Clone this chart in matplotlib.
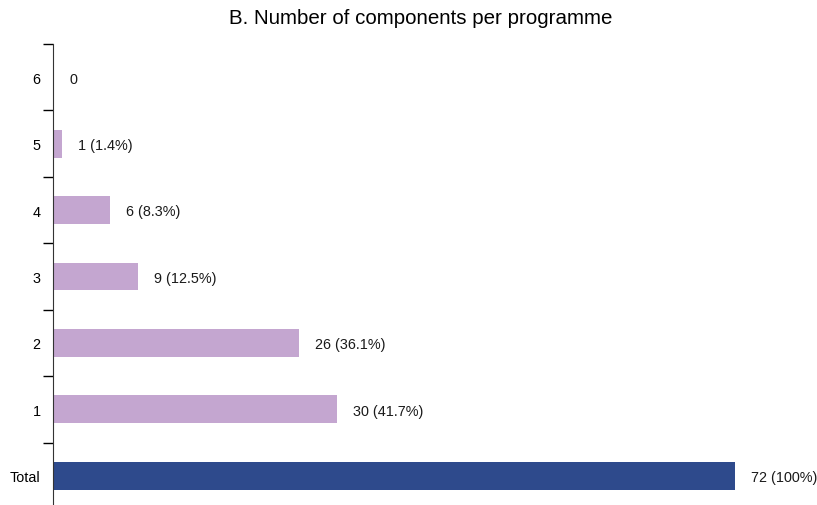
import matplotlib
matplotlib.use('Agg')
import matplotlib.pyplot as plt

plt.rcParams['font.family'] = ['Liberation Sans', 'DejaVu Sans']

# components per programme, bottom to top
categories = ['Total', '1', '2', '3', '4', '5', '6']
counts = [72, 30, 26, 9, 6, 1, 0]
labels = ['72 (100%)', '30 (41.7%)', '26 (36.1%)', '9 (12.5%)',
          '6 (8.3%)', '1 (1.4%)', '0']
colors = ['#2E4A8C'] + ['#C4A6D0'] * 6

fig = plt.figure(figsize=(8.17, 5.06), dpi=100)
ax = fig.add_axes([53 / 817, 0, 1 - 53 / 817, (506 - 45) / 506])

pos = list(range(len(categories)))
ax.barh(pos, counts, height=0.42, color=colors)
for p, c, lab in zip(pos, counts, labels):
    ax.annotate(lab, (c, p - 0.02), xytext=(16, 0), textcoords='offset pixels',
                va='center', ha='left', fontsize=10.4, color='#1a1a1a')

ax.set_xlim(0, 80.7)
ax.set_ylim(-0.44, 6.5)

# tick marks between categories, labels centred on bars
ax.set_yticks([p + 0.5 for p in pos])
ax.set_yticklabels([])
ax.set_yticks(pos, minor=True)
ax.set_yticklabels(categories, minor=True, fontsize=10.4)
ax.tick_params(axis='y', which='major', direction='out', length=7, width=1)
ax.tick_params(axis='y', which='minor', length=0, pad=9)
ax.set_xticks([])

for s in ['top', 'right', 'bottom']:
    ax.spines[s].set_visible(False)
ax.spines['left'].set_color('#333333')

fig.text(421 / 817, 1 - 19 / 506, 'B. Number of components per programme',
         ha='center', va='center', fontsize=14.8)

fig.savefig('out.png', dpi=100)
